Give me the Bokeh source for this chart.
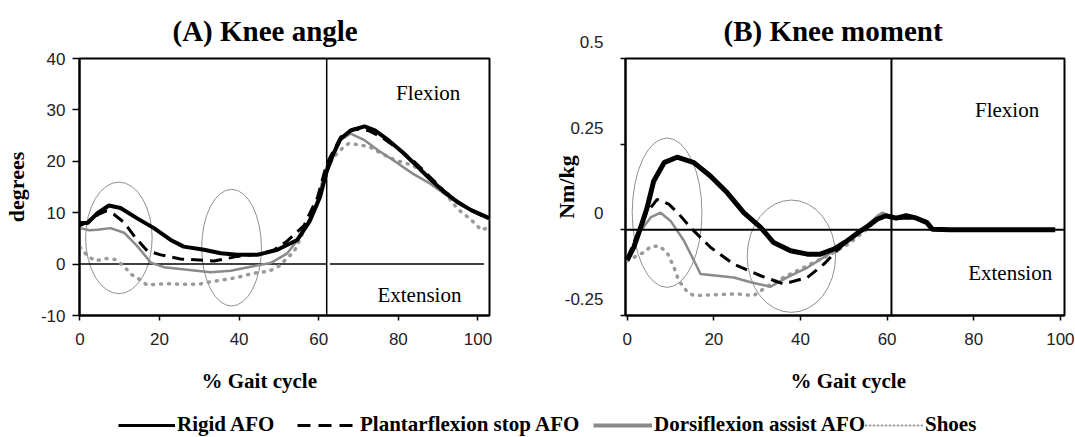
from bokeh.plotting import figure
from bokeh.models import (Range1d, FixedTicker, Label, Span, Legend, LegendItem, Title)
from bokeh.layouts import row, column
from bokeh.embed import file_html
from bokeh.resources import INLINE

# ---------------- data ----------------
SERIES = ["Rigid AFO", "Plantarflexion stop AFO", "Dorsiflexion assist AFO", "Shoes"]

# Panel A: knee angle (degrees) vs % gait cycle
A_RIGID_X = [0, 1.9, 4.4, 7.3, 10.2, 14.4, 18.6, 22.8, 26.1, 31.2, 35.4, 39.5, 44.6, 49.6, 54.6, 57.7, 60.3, 62,
             63.7, 65.5, 68, 71.5, 74.1, 77.5, 81, 84.5, 87.9, 91.4, 94.8, 98.3, 103]
A_RIGID_Y = [8.0, 8.0, 9.9, 11.4, 10.9, 8.9, 7.0, 4.7, 3.4, 2.8, 2.1, 1.8, 1.8, 2.8, 4.7, 8.3, 13.0, 18.0,
             21.5, 24.4, 26.0, 26.8, 26.0, 24.1, 21.8, 19.2, 16.6, 14.1, 12.1, 10.5, 8.9]

A_PF_X = [0, 2, 4.5, 6.5, 8.5, 11.1, 13.6, 16.9, 20.3, 25.3, 30, 33.7, 39.6, 44.6, 48.5, 52.1, 56.3, 59.7, 62,
          65.5, 68.9, 72.4, 75.8, 79.3, 83.6, 87.9, 91.4, 94.8, 98.3, 102]
A_PF_Y = [7.5, 8.2, 9.6, 10.3, 9.7, 8.1, 5.5, 2.6, 1.8, 1.0, 0.8, 0.6, 1.5, 1.9, 2.6, 4.5, 7.5, 13.0, 19.5,
          24.7, 26.3, 26.0, 24.7, 22.8, 20.2, 17.0, 14.3, 12.2, 10.5, 9.0]

A_DA_X = [0, 2.4, 4.4, 7.7, 11.1, 14.4, 17.8, 21.1, 27, 32.8, 37.9, 42.9, 47.9, 52.1, 56, 59.4, 62, 65.5, 68,
          71.5, 75, 79.3, 83.6, 87.9, 91.4, 94.8, 98.3, 103]
A_DA_Y = [7.0, 6.6, 6.7, 7.0, 6.1, 3.5, 0.3, -0.6, -1.1, -1.6, -1.3, -0.5, 0.2, 2.1, 6.0, 11.8, 18.9, 24.1, 25.4,
          24.1, 22.1, 19.9, 17.6, 15.7, 13.8, 12.0, 10.4, 8.6]

A_SH_X = [0, 1.9, 3.9, 6.4, 8.9, 11.1, 12.7, 14.8, 16.9, 19.4, 21.9, 24.5, 27, 30, 32.4, 34.9, 37.4, 40, 42.5,
          45, 47.5, 50, 52.1, 53.8, 56, 59.4, 61.6, 63.7, 66.3, 67.6, 70.2, 72.8, 75.8, 79.3, 83.6, 86.2, 88.8,
          92.2, 94.8, 98.3, 100.9, 103.9]
A_SH_Y = [3.3, 1.6, 0.6, 1.1, 0.9, -0.4, -1.9, -2.9, -4.1, -3.9, -3.8, -3.9, -3.9, -3.9, -3.5, -3.2, -2.9, -2.5,
          -2.0, -1.6, -1.4, -0.4, 1.2, 2.4, 6.0, 11.2, 17.9, 20.8, 22.8, 23.5, 23.2, 22.8, 21.5, 20.2, 19.2, 17.9,
          16.3, 13.4, 10.8, 8.6, 6.6, 7.6]

# Panel B: knee moment (Nm/kg) vs % gait cycle
B_RIGID_X = [0, 1.5, 3.1, 4.6, 6.1, 8.5, 11.5, 15.4, 19.2, 23.1, 26.9, 30.8, 33.8, 37.7, 41.6, 44.6, 47.7, 50.8,
             53.9, 55.7, 57.7, 59.7, 62.1, 64.4, 66.8, 69.2, 70.4, 74.7, 98.8]
B_RIGID_Y = [-0.088, -0.051, 0.007, 0.065, 0.142, 0.196, 0.212, 0.196, 0.157, 0.108, 0.050, 0.007, -0.037,
             -0.061, -0.071, -0.071, -0.056, -0.032, -0.003, 0.012, 0.031, 0.041, 0.034, 0.041, 0.034, 0.021,
             0.002, 0.0, 0.0]

B_PF_X = [0, 2, 4.3, 6.9, 9.6, 12, 14.6, 19.2, 24.6, 30.8, 36.1, 41.6, 45.4, 48.5, 50.8, 53.9, 57.7, 59.7, 62.1,
          66.8, 69.2, 70.4, 74.7]
B_PF_Y = [-0.085, -0.022, 0.046, 0.089, 0.075, 0.045, 0.007, -0.051, -0.100, -0.134, -0.158, -0.139, -0.100,
          -0.060, -0.032, -0.003, 0.031, 0.041, 0.034, 0.034, 0.021, 0.002, 0.0]

B_DA_X = [0, 3.1, 5.4, 7.7, 10.0, 13.1, 16.2, 16.9, 20.8, 24.6, 28.5, 33.1, 36.9, 41.6, 45.4, 50.8, 53.9, 57.7,
          58.9, 61.3, 64.4, 66.8, 69.2, 70.4, 74.7]
B_DA_Y = [-0.090, -0.003, 0.036, 0.050, 0.026, -0.032, -0.110, -0.129, -0.134, -0.139, -0.153, -0.166, -0.139,
          -0.110, -0.080, -0.035, -0.003, 0.040, 0.050, 0.036, 0.036, 0.034, 0.021, 0.002, 0.0]

B_SH_X = [0, 3.8, 5.4, 7.3, 9.2, 10.8, 11.9, 13.9, 15.4, 20.8, 25.4, 29.2, 31.5, 34.6, 38.5, 42.3, 47, 51, 54.9,
          58.9, 61.3, 64.4, 66.8, 69.2, 70.4]
B_SH_Y = [-0.090, -0.066, -0.049, -0.047, -0.066, -0.110, -0.148, -0.182, -0.192, -0.189, -0.187, -0.192,
          -0.172, -0.148, -0.124, -0.100, -0.071, -0.042, -0.003, 0.045, 0.036, 0.036, 0.034, 0.021, 0.002]

# ticks
X_TICKS = [0, 20, 40, 60, 80, 100]
A_Y_TICKS = [-10, 0, 10, 20, 30, 40]
A_Y_LABELS = ["-10", "0", "10", "20", "30", "40"]
B_Y_TICKS = [-0.25, 0, 0.25, 0.5]
B_Y_LABELS = ["-0.25", "0", "0.25", "0.5"]

# reference lines and highlight ellipses
A_TOE_OFF = 62
B_TOE_OFF = 61
A_ZERO_SEGS = [(-1.1, 62), (62.8, 101.5)]
A_ELLIPSES = [(9.8, 5.1, 16.7, 21.7), (38.1, 3.2, 15.0, 22.7)]       # x, y, width, height
B_ELLIPSES = [(9.2, 0.050, 16.1, 0.436), (37.9, -0.077, 20.4, 0.328)]

# ---------------- styles ----------------
STYLE = {
    "Rigid AFO": dict(line_color="black", line_width=4),
    "Plantarflexion stop AFO": dict(line_color="black", line_width=3, line_dash="12 7"),
    "Dorsiflexion assist AFO": dict(line_color="#8a8a8a", line_width=2.5),
    "Shoes": dict(line_color="#9a9a9a", line_width=3.5, line_dash="1 7", line_cap="round"),
}
TICK_FONT = "Liberation Sans"
SERIF = "Liberation Serif"
ROW_H = 413


def style_axes(p, y_ticks, y_labels, y_tick_out, y_label_standoff):
    p.xaxis.ticker = FixedTicker(ticks=X_TICKS)
    p.yaxis.ticker = FixedTicker(ticks=y_ticks)
    for ax in (p.xaxis[0], p.yaxis[0]):
        ax.axis_line_width = 2
        ax.axis_line_color = "black"
        ax.major_tick_in = 0
        ax.major_tick_line_color = "black"
        ax.major_tick_line_width = 1.5
        ax.minor_tick_line_color = None
        ax.major_label_text_font = TICK_FONT
        ax.major_label_text_font_size = "17px"
        ax.major_label_text_color = "#222222"
    p.xaxis.major_tick_out = 5
    p.xaxis.major_label_standoff = 12
    p.yaxis.major_tick_out = y_tick_out
    p.yaxis.major_label_standoff = y_label_standoff
    p.yaxis.major_label_overrides = dict(zip(y_ticks, y_labels))
    p.xgrid.visible = False
    p.ygrid.visible = False
    p.outline_line_color = "black"
    p.outline_line_width = 2


def add_label(p, x, y, text, size, bold=False):
    p.add_layout(Label(x=x, y=y, text=text, text_font=SERIF, text_font_size=size,
                       text_font_style="bold" if bold else "normal", text_color="black",
                       text_align="center", text_baseline="middle"))


def add_titles(p, top_text, top_offset, bottom_text, bottom_offset):
    p.add_layout(Title(text=top_text, align="left", offset=top_offset, standoff=24,
                       vertical_align="bottom", text_font=SERIF, text_font_style="bold",
                       text_font_size="29px", text_color="black"), "above")
    p.add_layout(Title(text=bottom_text, align="left", offset=bottom_offset, standoff=38,
                       vertical_align="bottom", text_font=SERIF, text_font_style="bold",
                       text_font_size="21px", text_color="black"), "below")


def set_ylabel(p, text, standoff):
    p.yaxis.axis_label = text
    p.yaxis.axis_label_standoff = standoff
    p.yaxis.axis_label_text_font = SERIF
    p.yaxis.axis_label_text_font_style = "bold"
    p.yaxis.axis_label_text_font_size = "22px"
    p.yaxis.axis_label_text_color = "black"


# ---------------- Panel A ----------------
A_LEFT, A_TOP, A_W, A_H = 79, 58, 410, 258
pA = figure(width=540, height=ROW_H, output_backend="svg", toolbar_location=None,
            x_range=Range1d(-0.1, 102.9), y_range=Range1d(-10, 40),
            min_border_left=A_LEFT, min_border_right=540 - A_LEFT - A_W,
            min_border_top=A_TOP, min_border_bottom=ROW_H - A_TOP - A_H)
style_axes(pA, A_Y_TICKS, A_Y_LABELS, 7, 7)
set_ylabel(pA, "degrees", 9)
add_titles(pA, "(A) Knee angle", 93, "% Gait cycle", 122)
for (cx, cy, w, h) in A_ELLIPSES:
    pA.ellipse(x=cx, y=cy, width=w, height=h, fill_color=None, line_color="#8f8f8f", line_width=1)
pA.segment(x0=[s[0] for s in A_ZERO_SEGS], y0=[0] * len(A_ZERO_SEGS),
           x1=[s[1] for s in A_ZERO_SEGS], y1=[0] * len(A_ZERO_SEGS), line_color="black", line_width=1.5)
pA.add_layout(Span(location=A_TOE_OFF, dimension="height", line_color="black", line_width=1.5))
for name, xs, ys in [("Shoes", A_SH_X, A_SH_Y), ("Dorsiflexion assist AFO", A_DA_X, A_DA_Y),
                     ("Plantarflexion stop AFO", A_PF_X, A_PF_Y), ("Rigid AFO", A_RIGID_X, A_RIGID_Y)]:
    pA.line(xs, ys, **STYLE[name])
add_label(pA, 87.5, 33.3, "Flexion", "21px")
add_label(pA, 85.3, -6.0, "Extension", "21px")

# ---------------- Panel B ----------------
B_LEFT, B_TOP, B_W, B_H = 85, 57, 439, 258
pB = figure(width=535, height=ROW_H, output_backend="svg", toolbar_location=None,
            x_range=Range1d(-0.4, 100.95), y_range=Range1d(-0.25, 0.5),
            min_border_left=B_LEFT, min_border_right=535 - B_LEFT - B_W,
            min_border_top=B_TOP, min_border_bottom=ROW_H - B_TOP - B_H)
style_axes(pB, B_Y_TICKS, B_Y_LABELS, 5, 17)
# in the original the moment tick labels sit a little above their ticks
pB.yaxis.major_label_overrides = {t: lab + "\n" for t, lab in zip(B_Y_TICKS, B_Y_LABELS)}
pB.yaxis.major_label_text_line_height = 1.7
set_ylabel(pB, "Nm/kg", -17)
add_titles(pB, "(B) Knee moment", 98, "% Gait cycle", 165)
for (cx, cy, w, h) in B_ELLIPSES:
    pB.ellipse(x=cx, y=cy, width=w, height=h, fill_color=None, line_color="#8f8f8f", line_width=1)
pB.add_layout(Span(location=0, dimension="width", line_color="black", line_width=2))
pB.add_layout(Span(location=B_TOE_OFF, dimension="height", line_color="black", line_width=2))
B_STYLE_W = {"Rigid AFO": 5}
for name, xs, ys in [("Shoes", B_SH_X, B_SH_Y), ("Dorsiflexion assist AFO", B_DA_X, B_DA_Y),
                     ("Plantarflexion stop AFO", B_PF_X, B_PF_Y), ("Rigid AFO", B_RIGID_X, B_RIGID_Y)]:
    st = dict(STYLE[name])
    if name in B_STYLE_W:
        st["line_width"] = B_STYLE_W[name]
    pB.line(xs, ys, **st)
add_label(pB, 87.7, 0.349, "Flexion", "21px")
add_label(pB, 88.4, -0.125, "Extension", "21px")

# ---------------- Legend strip ----------------
pL = figure(width=1075, height=437 - ROW_H, output_backend="svg", toolbar_location=None,
            x_range=Range1d(0, 1), y_range=Range1d(0, 1),
            min_border_left=0, min_border_right=0, min_border_top=0, min_border_bottom=0)
pL.axis.visible = False
pL.xgrid.visible = False
pL.ygrid.visible = False
pL.outline_line_color = None
LEG_STYLE = {
    "Rigid AFO": dict(line_color="black", line_width=3),
    "Plantarflexion stop AFO": dict(line_color="black", line_width=3, line_dash="13 8"),
    "Dorsiflexion assist AFO": dict(line_color="#8a8a8a", line_width=4),
    "Shoes": dict(line_color="#9a9a9a", line_width=2, line_dash="1 3", line_cap="round"),
}
LEG_X = {"Rigid AFO": 118, "Plantarflexion stop AFO": 297, "Dorsiflexion assist AFO": 593, "Shoes": 865}
LEG_W = {"Rigid AFO": 57, "Plantarflexion stop AFO": 61, "Dorsiflexion assist AFO": 59, "Shoes": 58}
for name in SERIES:
    # legend sample renderer; its points lie outside the strip's visible range
    r = pL.line(x=[5, 6], y=[5, 6], **LEG_STYLE[name])
    pL.add_layout(Legend(items=[LegendItem(label=name, renderers=[r])], location=(LEG_X[name], 0),
                         glyph_width=LEG_W[name], glyph_height=20, label_standoff=2,
                         padding=0, margin=0, border_line_color=None, background_fill_alpha=0,
                         label_text_font=SERIF, label_text_font_style="bold",
                         label_text_font_size="21px", label_text_color="black"))

layout = column(row(pA, pB), pL)
open("out.html", "w").write(file_html(layout, INLINE))
